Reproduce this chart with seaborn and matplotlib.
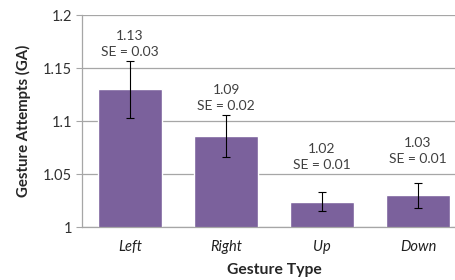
import numpy as np
import pandas as pd
import matplotlib
matplotlib.use("Agg")
import matplotlib.pyplot as plt
import seaborn as sns

# data
gestures = ["Left", "Right", "Up", "Down"]
means = [1.130, 1.086, 1.024, 1.030]
err = [0.027, 0.020, 0.009, 0.012]
mean_labels = ["1.13", "1.09", "1.02", "1.03"]
se_labels = ["SE = 0.03", "SE = 0.02", "SE = 0.01", "SE = 0.01"]

df = pd.DataFrame({"gesture": gestures, "ga": means})

sns.set_style("white")
plt.rcParams["font.family"] = ["Lato", "DejaVu Sans"]

fig = plt.figure(figsize=(4.56, 2.8), dpi=100)
ax = fig.add_axes([0.18, 0.189, 0.842, 0.757])

bar_color = "#7B619C"
sns.barplot(data=df, x="gesture", y="ga", color=bar_color, saturation=1,
            width=0.667, errorbar=None, ax=ax, zorder=2)
ax.errorbar(np.arange(len(gestures)), means, yerr=err, fmt="none",
            ecolor="black", elinewidth=0.8, capsize=3, capthick=0.8, zorder=3)

# labels above the error bars (offsets in points, as placed in the source)
pad = [2, 2, 15, 13]
for i, (m, e) in enumerate(zip(means, err)):
    ax.annotate(mean_labels[i] + "\n" + se_labels[i], (i, m + e),
                xytext=(0, pad[i]), textcoords="offset points",
                ha="center", va="bottom", fontsize=10, color="#404040",
                linespacing=1.4)

ax.set_ylim(1.0, 1.2)
ax.set_xlim(-0.5, 3.5)
ax.set_yticks([1.0, 1.05, 1.1, 1.15, 1.2])
ax.set_yticklabels(["1", "1.05", "1.1", "1.15", "1.2"])
ax.yaxis.grid(True, color="#A6A6A6", linewidth=0.9, zorder=0)
ax.set_axisbelow(True)
for s in ["top", "right"]:
    ax.spines[s].set_visible(False)
for s in ["left", "bottom"]:
    ax.spines[s].set_color("#A6A6A6")
    ax.spines[s].set_linewidth(0.9)
ax.tick_params(axis="y", length=4, color="#A6A6A6", labelsize=10.5,
               labelcolor="#303030", pad=3, left=True)
ax.tick_params(axis="x", length=0, labelsize=10.5, pad=9, labelcolor="#202020")
for lab in ax.get_xticklabels():
    lab.set_fontstyle("italic")

ax.set_xlabel("Gesture Type", fontsize=11.3, fontweight="bold", labelpad=7)
ax.set_ylabel("Gesture Attempts (GA)", fontsize=10.8, fontweight="bold", labelpad=9)

fig.savefig("out.png", dpi=100)
